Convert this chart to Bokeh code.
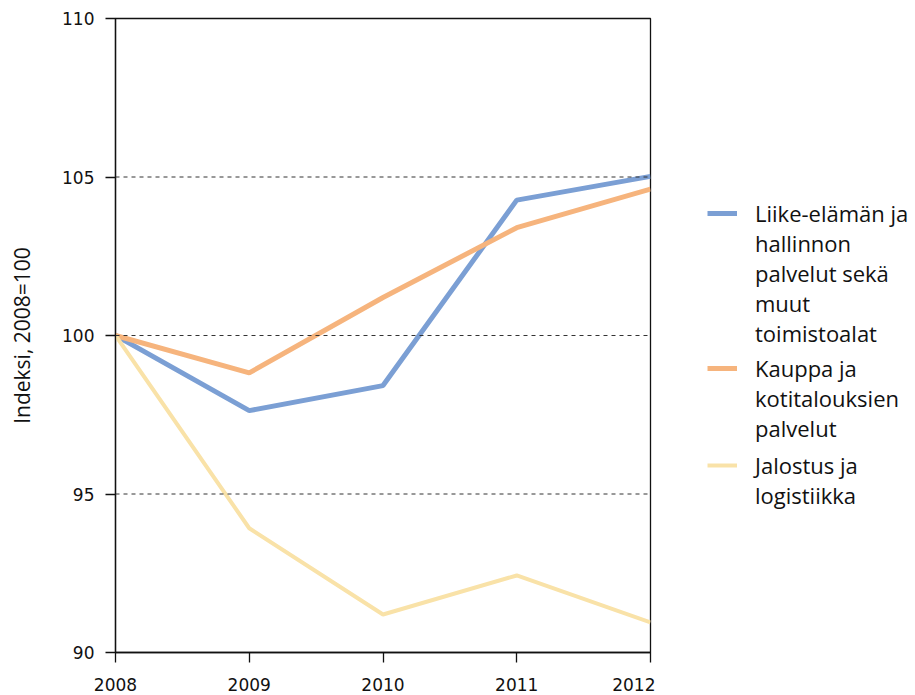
from bokeh.plotting import figure
from bokeh.models import Legend, LegendItem, Range1d, FixedTicker, Span
from bokeh.layouts import row
from bokeh.embed import file_html
from bokeh.resources import INLINE

years = [2008, 2009, 2010, 2011, 2012]
liike = [100.0, 97.63, 98.42, 104.27, 105.02]
kauppa = [100.0, 98.82, 101.2, 103.4, 104.62]
jalostus = [100.0, 93.92, 91.2, 92.43, 90.95]
label_lines = [["Liike-elämän ja", "hallinnon", "palvelut sekä", "muut", "toimistoalat"],
               ["Kauppa ja", "kotitalouksien", "palvelut"],
               ["Jalostus ja", "logistiikka"]]
colors = ["#7b9fd4", "#f6b47d", "#f9e2a8"]
widths = [5, 5, 4]
grid_vals = [95, 100, 105]
y_ticks = [90, 95, 100, 105, 110]

p = figure(frame_width=535, frame_height=634, output_backend="svg", toolbar_location=None,
           x_range=Range1d(2008, 2012), y_range=Range1d(90, 110),
           min_border_left=115, min_border_top=18, min_border_bottom=42, min_border_right=5)
p.outline_line_color = "#111111"
p.outline_line_width = 1.3
p.xgrid.visible = False
p.ygrid.visible = False
for g in grid_vals:
    p.add_layout(Span(location=g, dimension="width", line_color="#333333",
                      line_dash="4 4", line_width=1))

series = [liike, kauppa, jalostus]
for vals, c, w in zip(series, colors, widths):
    p.line(years, vals, line_color=c, line_width=w)

for ax in (p.xaxis[0], p.yaxis[0]):
    ax.axis_line_color = "#111111"
    ax.axis_line_width = 1.3
    ax.major_tick_line_color = "#111111"
    ax.major_tick_line_width = 1.3
    ax.major_tick_in = 0
    ax.major_tick_out = 10
    ax.minor_tick_line_color = None
    ax.major_label_text_font = "DejaVu Sans"
    ax.major_label_text_font_size = "17px"
    ax.major_label_text_color = "#111111"

p.xaxis.ticker = FixedTicker(ticks=years)
p.yaxis.ticker = FixedTicker(ticks=y_ticks)
p.xaxis.major_label_standoff = 15
p.yaxis.major_label_standoff = 11
p.yaxis.axis_label = "Indeksi, 2008=100"
p.yaxis.axis_label_text_font = "Open Sans"
p.yaxis.axis_label_text_font_style = "normal"
p.yaxis.axis_label_text_font_size = "21px"
p.yaxis.axis_label_text_color = "#111111"
p.yaxis.axis_label_standoff = 23

# legend panel (keys are hidden copies of the series so the legend can draw them)
q = figure(width=255, height=685, output_backend="svg", toolbar_location=None,
           x_axis_type=None, y_axis_type=None, min_border=0,
           x_range=Range1d(2008, 2012), y_range=Range1d(90, 110))
q.outline_line_color = None
q.xgrid.visible = False
q.ygrid.visible = False
dummy = q.line(years, liike, line_alpha=0, visible=False)
keys = [q.line(years, vals, line_color=c, line_width=w, visible=False)
        for vals, c, w in zip(series, colors, widths)]

locs = [(52, 295), (52, 200), (52, 133)]
for lines, r, loc in zip(label_lines, keys, locs):
    items = [LegendItem(label=lines[0], renderers=[r])]
    items += [LegendItem(label=t, renderers=[dummy]) for t in lines[1:]]
    lg = Legend(items=items, location=loc)
    lg.label_text_font = "Open Sans"
    lg.label_text_font_size = "22px"
    lg.label_text_color = "#111111"
    lg.glyph_width = 30
    lg.glyph_height = 20
    lg.label_height = 20
    lg.label_standoff = 18
    lg.border_line_color = None
    lg.background_fill_alpha = 0
    lg.inactive_fill_alpha = 0
    lg.margin = 0
    lg.padding = 0
    lg.spacing = 0
    q.add_layout(lg)

layout = row(p, q)
open("out.html", "w").write(file_html(layout, INLINE))
